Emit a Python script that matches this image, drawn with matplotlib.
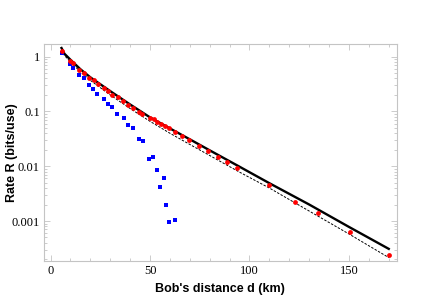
import numpy as np
import matplotlib
matplotlib.use("Agg")
import matplotlib.pyplot as plt
from matplotlib.ticker import FixedLocator, FuncFormatter, LogLocator, NullFormatter

# ===== Data =====
# blue squares
d_blue = [5.8, 9.6, 11.3, 14.3, 16.7, 19.2, 21.5, 23.5, 26.7, 28.7, 31.0, 33.6,
          36.9, 38.8, 41.5, 44.3, 46.3, 49.6, 51.5, 53.4, 55.0, 57.0, 57.9, 59.4, 62.6]
r_blue = [1.15, 0.73, 0.63, 0.46, 0.40, 0.30, 0.26, 0.21, 0.17, 0.137, 0.12, 0.091,
          0.076, 0.056, 0.049, 0.031, 0.029, 0.0138, 0.0148, 0.0087, 0.0041, 0.0061,
          0.0020, 0.00096, 0.00105]

# red dots
d_red = [5.9, 9.8, 11.5, 14.5, 16.8, 19.2, 21.7, 23.7, 26.9, 28.9, 31.1, 33.8, 36.6,
         38.8, 41.5, 44.3, 46.1, 50.0, 52.2, 53.7, 55.5, 57.4, 59.7, 62.6, 65.9, 69.6,
         74.5, 79.3, 84.3, 88.8, 93.7, 110.0, 122.9, 134.3, 150.4, 170.1]
r_red = [1.29, 0.83, 0.76, 0.57, 0.51, 0.41, 0.37, 0.32, 0.27, 0.24, 0.20, 0.18, 0.158,
         0.13, 0.116, 0.098, 0.090, 0.076, 0.072, 0.065, 0.059, 0.054, 0.049, 0.042,
         0.036, 0.030, 0.023, 0.019, 0.0148, 0.0118, 0.0094, 0.0046, 0.0022, 0.0014,
         0.00063, 0.00024]

# solid bound
d_solid = [5.5, 7, 10, 15, 20, 30, 40, 50, 60, 70, 80, 95, 110, 130, 150, 170]
r_solid = [1.44, 1.13, 0.88, 0.59, 0.42, 0.235, 0.134, 0.078, 0.049, 0.031, 0.0195,
           0.0098, 0.0049, 0.0020, 0.00078, 0.00031]

# dashed bound
d_dash = [5.5, 7, 10, 15, 20, 30, 40, 50, 60, 70, 80, 95, 110, 130, 150, 170]
r_dash = [1.34, 1.05, 0.80, 0.53, 0.37, 0.20, 0.113, 0.066, 0.040, 0.025, 0.0157,
          0.0078, 0.0040, 0.00152, 0.00058, 0.000215]

y_major = [1, 0.1, 0.01, 0.001]
y_labels = ["1", "0.1", "0.01", "0.001"]

# ===== Figure =====
fig = plt.figure(figsize=(4.4, 3.06), dpi=100)
ax = fig.add_axes([0.1, 0.147, 0.8016, 0.709])

ax.plot(d_solid, r_solid, color="black", lw=1.7, zorder=2)
ax.plot(d_dash, r_dash, color="black", lw=0.7, ls=(0, (2.5, 1.5)), zorder=2)
ax.scatter(d_blue, r_blue, marker="s", s=11, color="#0000ff", lw=0, zorder=3)
ax.scatter(d_red, r_red, marker="o", s=12, color="#ff0000", lw=0, zorder=4)

ax.set_yscale("log")
ax.set_xlim(-3.3, 174)
ax.set_ylim(1.86e-4, 1.7)

frame = "#c4c4c4"
for s in ax.spines.values():
    s.set_color(frame)
    s.set_linewidth(0.8)

ax.xaxis.set_major_locator(FixedLocator([0, 50, 100, 150]))
ax.xaxis.set_minor_locator(FixedLocator(np.arange(10, 180, 10)))
ax.yaxis.set_major_locator(FixedLocator(y_major))
ax.yaxis.set_major_formatter(FuncFormatter(lambda v, p: y_labels[y_major.index(v)] if v in y_major else ""))
ax.yaxis.set_minor_locator(LogLocator(base=10, subs=np.arange(2, 10)))
ax.yaxis.set_minor_formatter(NullFormatter())

ax.tick_params(which="both", direction="in", top=True, right=True, color=frame, width=0.6)
ax.tick_params(which="major", length=4)
ax.tick_params(which="minor", length=2)
ax.tick_params(labelsize=9, pad=3)
for lab in ax.get_xticklabels() + ax.get_yticklabels():
    lab.set_family("Liberation Serif")

ax.set_xlabel("Bob's distance d (km)", fontsize=9, fontweight="bold", family="Liberation Sans", labelpad=4)
ax.set_ylabel("Rate R (bits/use)", fontsize=9, fontweight="bold", family="Liberation Sans")
ax.yaxis.set_label_coords(-0.074, 0.5)

plt.savefig("out.png", dpi=100)
